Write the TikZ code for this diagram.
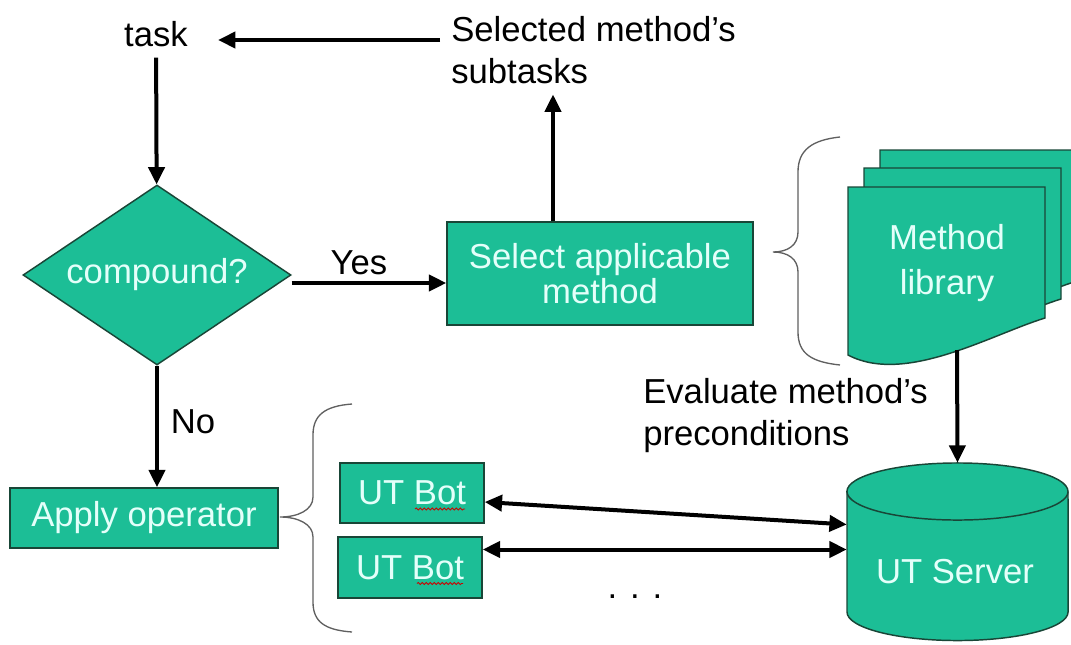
\documentclass[tikz,border=0pt]{standalone}
\usepackage{fontspec}
\setmainfont{Liberation Sans}
\usepackage{tikz}
\usetikzlibrary{shapes.geometric, arrows.meta, positioning, calc, decorations.pathmorphing}

\definecolor{boxfill}{RGB}{28,190,150}
\definecolor{boxline}{RGB}{25,70,55}
\definecolor{boxtext}{RGB}{228,255,250}

\begin{document}
\begin{tikzpicture}[
    x=0.75pt, y=-0.75pt,
    every node/.style={inner sep=0pt, font=\fontsize{26}{31.5}\selectfont},
    decision/.style={diamond, aspect=1.5, draw=boxline, fill=boxfill, line width=1.1pt, text=boxtext, minimum width=201pt, minimum height=135pt},
    process/.style={rectangle, draw=boxline, fill=boxfill, line width=1.1pt, text=boxtext, align=center, font=\fontsize{26}{26}\selectfont},
    document/.style={draw=boxline, fill=boxfill, line width=1.1pt},
    caption/.style={text=black, align=left},
    brace/.style={draw=gray!75!black, line width=1pt},
    arrow/.style={line width=3pt, -{Triangle[length=13pt, width=12pt]}},
    twoway/.style={line width=3pt, {Triangle[length=13pt, width=12pt]}-{Triangle[length=13pt, width=12pt]}},
    squiggle/.style={draw=red!80!black, line width=0.6pt, decorate, decoration={snake, amplitude=0.8pt, segment length=3pt}}
]
\useasboundingbox (0,0) rectangle (1071,644);
\clip (0,0) rectangle (1071,644);

% task and the returned subtasks
\node[caption] (task) at (156,34) {task};
\node[caption, anchor=west] (subt) at (451,50) {Selected method's\\subtasks};

% decision and the two branches
\node[decision] (comp) at (157,275) {compound?};
\node[process, minimum width=229.5pt, minimum height=77pt] (sel) at (600,273.5) {Select applicable\\method};
\node[process, minimum width=201pt, minimum height=45pt] (apply) at (144,518) {Apply operator};

\node[caption] (yes) at (359,263) {Yes};
\node[caption] (no) at (193,422) {No};

% method library (stacked documents)
\foreach \dx/\dy in {32/-37, 16/-19, 0/0}
    \draw[document, shift={(\dx,\dy)}] (848,187) -- (1045,187) -- (1045,318) .. controls (990,335) and (905,385) .. (848,355) -- cycle;
\node[text=boxtext, align=center, font=\fontsize{26}{34}\selectfont] (lib) at (947,263) {Method\\library};
\coordinate (libend) at (957,350);

\node[caption, anchor=west] (eval) at (643,416) {Evaluate method's\\preconditions};

% bots
\node[process, minimum width=108pt, minimum height=45pt] (bot1) at (412,493) {UT Bot};
\node[process, minimum width=108pt, minimum height=45.75pt] (bot2) at (410,567.5) {UT Bot};
\draw[squiggle] ($(bot1.center)+(3,16)$) -- ($(bot1.center)+(53,16)$);
\draw[squiggle] ($(bot2.center)+(7,16)$) -- ($(bot2.center)+(53,16)$);
\node[caption] (dots) at (635,597) {. . .};

% server
\draw[document] (847,491.5) -- (847,612) arc[start angle=180, end angle=360, x radius=82.9pt, y radius=21.4pt]
    -- (1068,491.5) arc[start angle=0, end angle=180, x radius=82.9pt, y radius=21.4pt] -- cycle;
\draw[document, fill=none] (847,491.5) arc[start angle=180, end angle=360, x radius=82.9pt, y radius=21.4pt];
\node[minimum width=165.75pt, minimum height=132.75pt] (srv) at (957.5,551.5) {};
\node[text=boxtext] (srvlabel) at (955,572) {UT Server};

% braces
\draw[brace] (840,137) .. controls (812,140) and (798,150) .. (798,172) -- (798,232)
    .. controls (798,245) and (788,252) .. (773,252) .. controls (788,252) and (798,259) .. (798,272)
    -- (798,332) .. controls (798,354) and (812,362) .. (840,365);
\draw[brace] (352,404) .. controls (325,406) and (313,415) .. (313,435) -- (313,497)
    .. controls (313,510) and (298,517) .. (280,517) .. controls (298,517) and (313,524) .. (313,537)
    -- (313,602) .. controls (313,622) and (325,630) .. (352,632);

% connectors
\draw[arrow] ($(subt.west)+(-11,-10)$) -- ($(task.east)+(30,6)$);
\draw[arrow, shorten <=8pt] (task) -- (comp);
\draw[arrow] ($(comp.east)+(0,8)$) -- ($(comp.east -| sel.west)+(0,8)$);
\draw[arrow] ($(sel.north)+(-47,0)$) -- ($(sel.north)+(-47,-127)$);
\draw[arrow] (comp.south) -- (comp.south |- apply.north);
\draw[arrow] (libend) -- (srv.north);
\draw[twoway] ($(bot1.east)+(0,9)$) -- ($(srv.west)+(0,-27)$);
\draw[twoway] ($(bot2.east)+(0,-18)$) -- ($(bot2.east -| srv.west)+(0,-18)$);

\end{tikzpicture}
\end{document}
